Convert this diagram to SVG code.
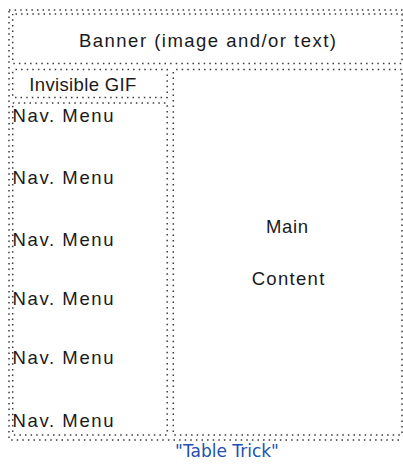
<svg xmlns="http://www.w3.org/2000/svg" width="403" height="466" viewBox="0 0 403 466">
  <style>
    .dot { fill: none; stroke: #3a3a3a; stroke-width: 1.5; stroke-dasharray: 1.5 4.1; }
    .lbl { font-family: "Liberation Sans", Arial, sans-serif; font-size: 18.5px; fill: #1a1a1a; }
    .cap { font-family: "DejaVu Sans", Verdana, sans-serif; font-size: 17px; fill: #2350b0; text-anchor: middle; }
  </style>
  <rect width="403" height="466" fill="#ffffff"/>

  <!-- outer table border -->
  <rect id="table" class="dot" x="9" y="10" width="400" height="430" stroke-dashoffset="0"/>

  <g id="banner">
    <rect class="dot" x="12.7" y="14" width="389.3" height="49.5" stroke-dashoffset="2.8"/>
    <text class="lbl" x="79" y="46.7" textLength="257" lengthAdjust="spacing">Banner (image and/or text)</text>
  </g>

  <g id="spacer-gif">
    <rect class="dot" x="12.7" y="69.5" width="154.5" height="28" stroke-dashoffset="2.8"/>
    <text class="lbl" x="29.3" y="90.7" textLength="107" lengthAdjust="spacing">Invisible GIF</text>
  </g>

  <g id="nav">
    <rect class="dot" x="12.7" y="103" width="154.5" height="332" stroke-dashoffset="0"/>
    <text class="lbl" x="12.5" y="122" textLength="101" lengthAdjust="spacing">Nav. Menu</text>
    <text class="lbl" x="12.5" y="184" textLength="101" lengthAdjust="spacing">Nav. Menu</text>
    <text class="lbl" x="12.5" y="245.5" textLength="101" lengthAdjust="spacing">Nav. Menu</text>
    <text class="lbl" x="12.5" y="305" textLength="101" lengthAdjust="spacing">Nav. Menu</text>
    <text class="lbl" x="12.5" y="364" textLength="101" lengthAdjust="spacing">Nav. Menu</text>
    <text class="lbl" x="12.5" y="427" textLength="101" lengthAdjust="spacing">Nav. Menu</text>
  </g>

  <g id="main">
    <rect class="dot" x="173.3" y="69.5" width="228.7" height="365.5" stroke-dashoffset="2.8"/>
    <text class="lbl" x="266" y="233.3" textLength="42" lengthAdjust="spacing">Main</text>
    <text class="lbl" x="251.7" y="285" textLength="72.6" lengthAdjust="spacing">Content</text>
  </g>

  <g id="caption">
    <text class="cap" x="227" y="457">"Table Trick"</text>
  </g>
</svg>
